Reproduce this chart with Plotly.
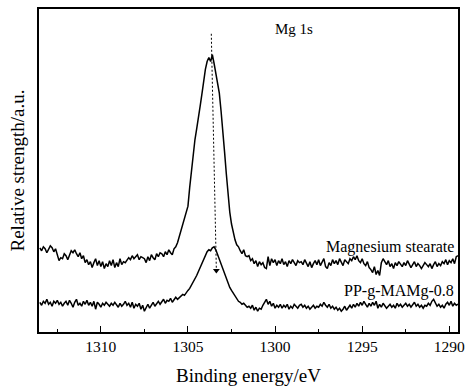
import numpy as np
import plotly.graph_objects as go

# Binding energy grid (eV), 0.1 eV steps, high -> low
binding_energy = [round(1313.5 - 0.1 * k, 1) for k in range(241)]

# Mg 1s intensity, magnesium stearate (a.u.)
mg_stearate = [
    85, 82, 86, 84, 80, 83, 87, 85, 81, 84,
    78, 72, 75, 74, 79, 77, 73, 78, 82, 80,
    83, 79, 76, 80, 74, 77, 70, 73, 68, 71,
    65, 70, 74, 67, 72, 66, 71, 64, 69, 66,
    72, 67, 73, 65, 70, 66, 74, 68, 71, 70,
    72, 75, 73, 77, 74, 76, 78, 73, 76, 75,
    74, 70, 76, 72, 78, 75, 73, 79, 76, 80,
    79, 76, 81, 78, 83, 80, 78, 84, 86, 90,
    96, 101, 108, 113, 119, 127, 146, 164, 180, 194,
    205, 219, 228, 240, 253, 265, 273, 277, 273, 280,
    271, 262, 252, 241, 223, 205, 182, 160, 138, 121,
    109, 99, 93, 88, 86, 82, 79, 83, 77, 76,
    77, 72, 74, 69, 72, 66, 71, 68, 70, 65,
    64, 76, 67, 74, 70, 73, 67, 72, 69, 74,
    68, 71, 66, 72, 69, 73, 70, 67, 72, 70,
    71, 68, 73, 70, 66, 71, 65, 69, 72, 68,
    73, 67, 71, 74, 66, 64, 70, 67, 73, 69,
    72, 68, 74, 70, 67, 73, 71, 69, 74, 72,
    76, 73, 77, 72, 70, 74, 69, 67, 71, 65,
    63, 60, 66, 58, 62, 57, 70, 74, 71, 68,
    72, 66, 69, 64, 70, 67, 71, 68, 66, 70,
    67, 72, 69, 65, 68, 71, 66, 69, 67, 64,
    67, 70, 68, 66, 69, 64, 68, 71, 66, 69,
    67, 71, 69, 73, 68, 72, 70, 74, 69, 76,
    77,
]

# Mg 1s intensity, PP-g-MAMg-0.8 (a.u.)
pp_g_mamg = [
    30, 27, 31, 29, 33, 28, 30, 26, 31, 29,
    32, 28, 30, 26, 29, 31, 27, 32, 29, 25,
    30, 33, 27, 29, 26, 31, 28, 32, 27, 30,
    26, 31, 23, 30, 28, 25, 29, 27, 30, 28,
    26, 29, 27, 30, 28, 25, 29, 26, 28, 31,
    27, 29, 25, 30, 24, 28, 26, 29, 23, 27,
    21, 25, 28, 24, 27, 30, 26, 29, 31, 28,
    30, 33, 29, 32, 31, 34, 30, 33, 35, 33,
    35, 36, 38, 37, 40, 42, 44, 47, 51, 54,
    57, 61, 65, 69, 74, 78, 81, 83, 82, 85,
    86, 83, 78, 73, 68, 63, 58, 53, 48, 45,
    42, 39, 36, 34, 31, 30, 28, 29, 27, 25,
    26, 24, 27, 22, 25, 21, 24, 23, 27, 30,
    33, 28, 31, 26, 29, 24, 27, 25, 28, 24,
    27, 25, 28, 23, 26, 24, 28, 26, 24, 27,
    28, 25, 27, 24, 26, 23, 25, 27, 24, 26,
    25, 28, 26, 30, 27, 25, 28, 24, 26, 23,
    25, 22, 24, 21, 23, 26, 22, 25, 27, 24,
    28, 25, 29, 26, 30, 27, 31, 28, 25, 29,
    26, 30, 27, 31, 24, 28, 25, 29, 26, 24,
    26, 28, 25, 27, 24, 29, 26, 28, 25, 27,
    29, 26, 28, 25, 27, 30, 26, 28, 25, 27,
    24, 27, 26, 29, 27, 31, 33, 29, 26, 28,
    25, 27, 24, 28, 30, 27, 31, 26, 29, 27,
    28,
]

# Peak shift guide: from the stearate maximum down to the grafted-PP peak
shift_be = [1303.66, 1303.37]
shift_int = [301, 62]

tick_vals = [1310, 1305, 1300, 1295, 1290]
tick_text = ["1310", "1305", "1300", "1295", "1290"]

FONT = "Liberation Serif, Times New Roman, serif"

fig = go.Figure()

fig.add_trace(go.Scatter(
    x=binding_energy, y=mg_stearate, mode="lines",
    line=dict(color="black", width=1.5), showlegend=False,
))
fig.add_trace(go.Scatter(
    x=binding_energy, y=pp_g_mamg, mode="lines",
    line=dict(color="black", width=1.5), showlegend=False,
))
fig.add_trace(go.Scatter(
    x=shift_be, y=shift_int, mode="lines",
    line=dict(color="black", width=1, dash="2px,2px"), showlegend=False,
))
fig.add_trace(go.Scatter(
    x=[shift_be[1]], y=[shift_int[1]], mode="markers",
    marker=dict(symbol="triangle-down", size=6, color="black"),
    showlegend=False,
))

fig.add_annotation(x=1298.9, y=306, text="Mg 1s", showarrow=False,
                   font=dict(family=FONT, size=15, color="black"))
fig.add_annotation(x=1, xref="paper", xshift=-2, xanchor="right", y=86,
                   text="Magnesium stearate", showarrow=False,
                   font=dict(family=FONT, size=16, color="black"))
fig.add_annotation(x=1, xref="paper", xshift=-2, xanchor="right", y=41,
                   text="PP-g-MAMg-0.8", showarrow=False,
                   font=dict(family=FONT, size=16, color="black"))

fig.update_layout(
    width=472, height=390,
    margin=dict(l=39, r=7, t=7, b=57),
    paper_bgcolor="white", plot_bgcolor="white",
    font=dict(family=FONT, color="black"),
    xaxis=dict(
        range=[1313.55, 1289.5], tickvals=tick_vals, ticktext=tick_text,
        ticks="inside", ticklen=6, tickwidth=1.2, tickcolor="black",
        minor=dict(dtick=2.5, tick0=1290, ticks="inside", ticklen=3,
                   tickwidth=1.2, tickcolor="black"),
        showline=True, linecolor="black", linewidth=1.5, mirror=True,
        showgrid=False, zeroline=False,
        tickfont=dict(family=FONT, size=15.5, color="black"),
        title=dict(text="Binding energy/eV", standoff=14,
                   font=dict(family=FONT, size=19, color="black")),
    ),
    yaxis=dict(
        range=[0, 326], showticklabels=False, ticks="",
        showline=True, linecolor="black", linewidth=1.5, mirror=True,
        showgrid=False, zeroline=False,
        title=dict(text="Relative strength/a.u.", standoff=8,
                   font=dict(family=FONT, size=19, color="black")),
    ),
)

fig.write_html("out.html")
